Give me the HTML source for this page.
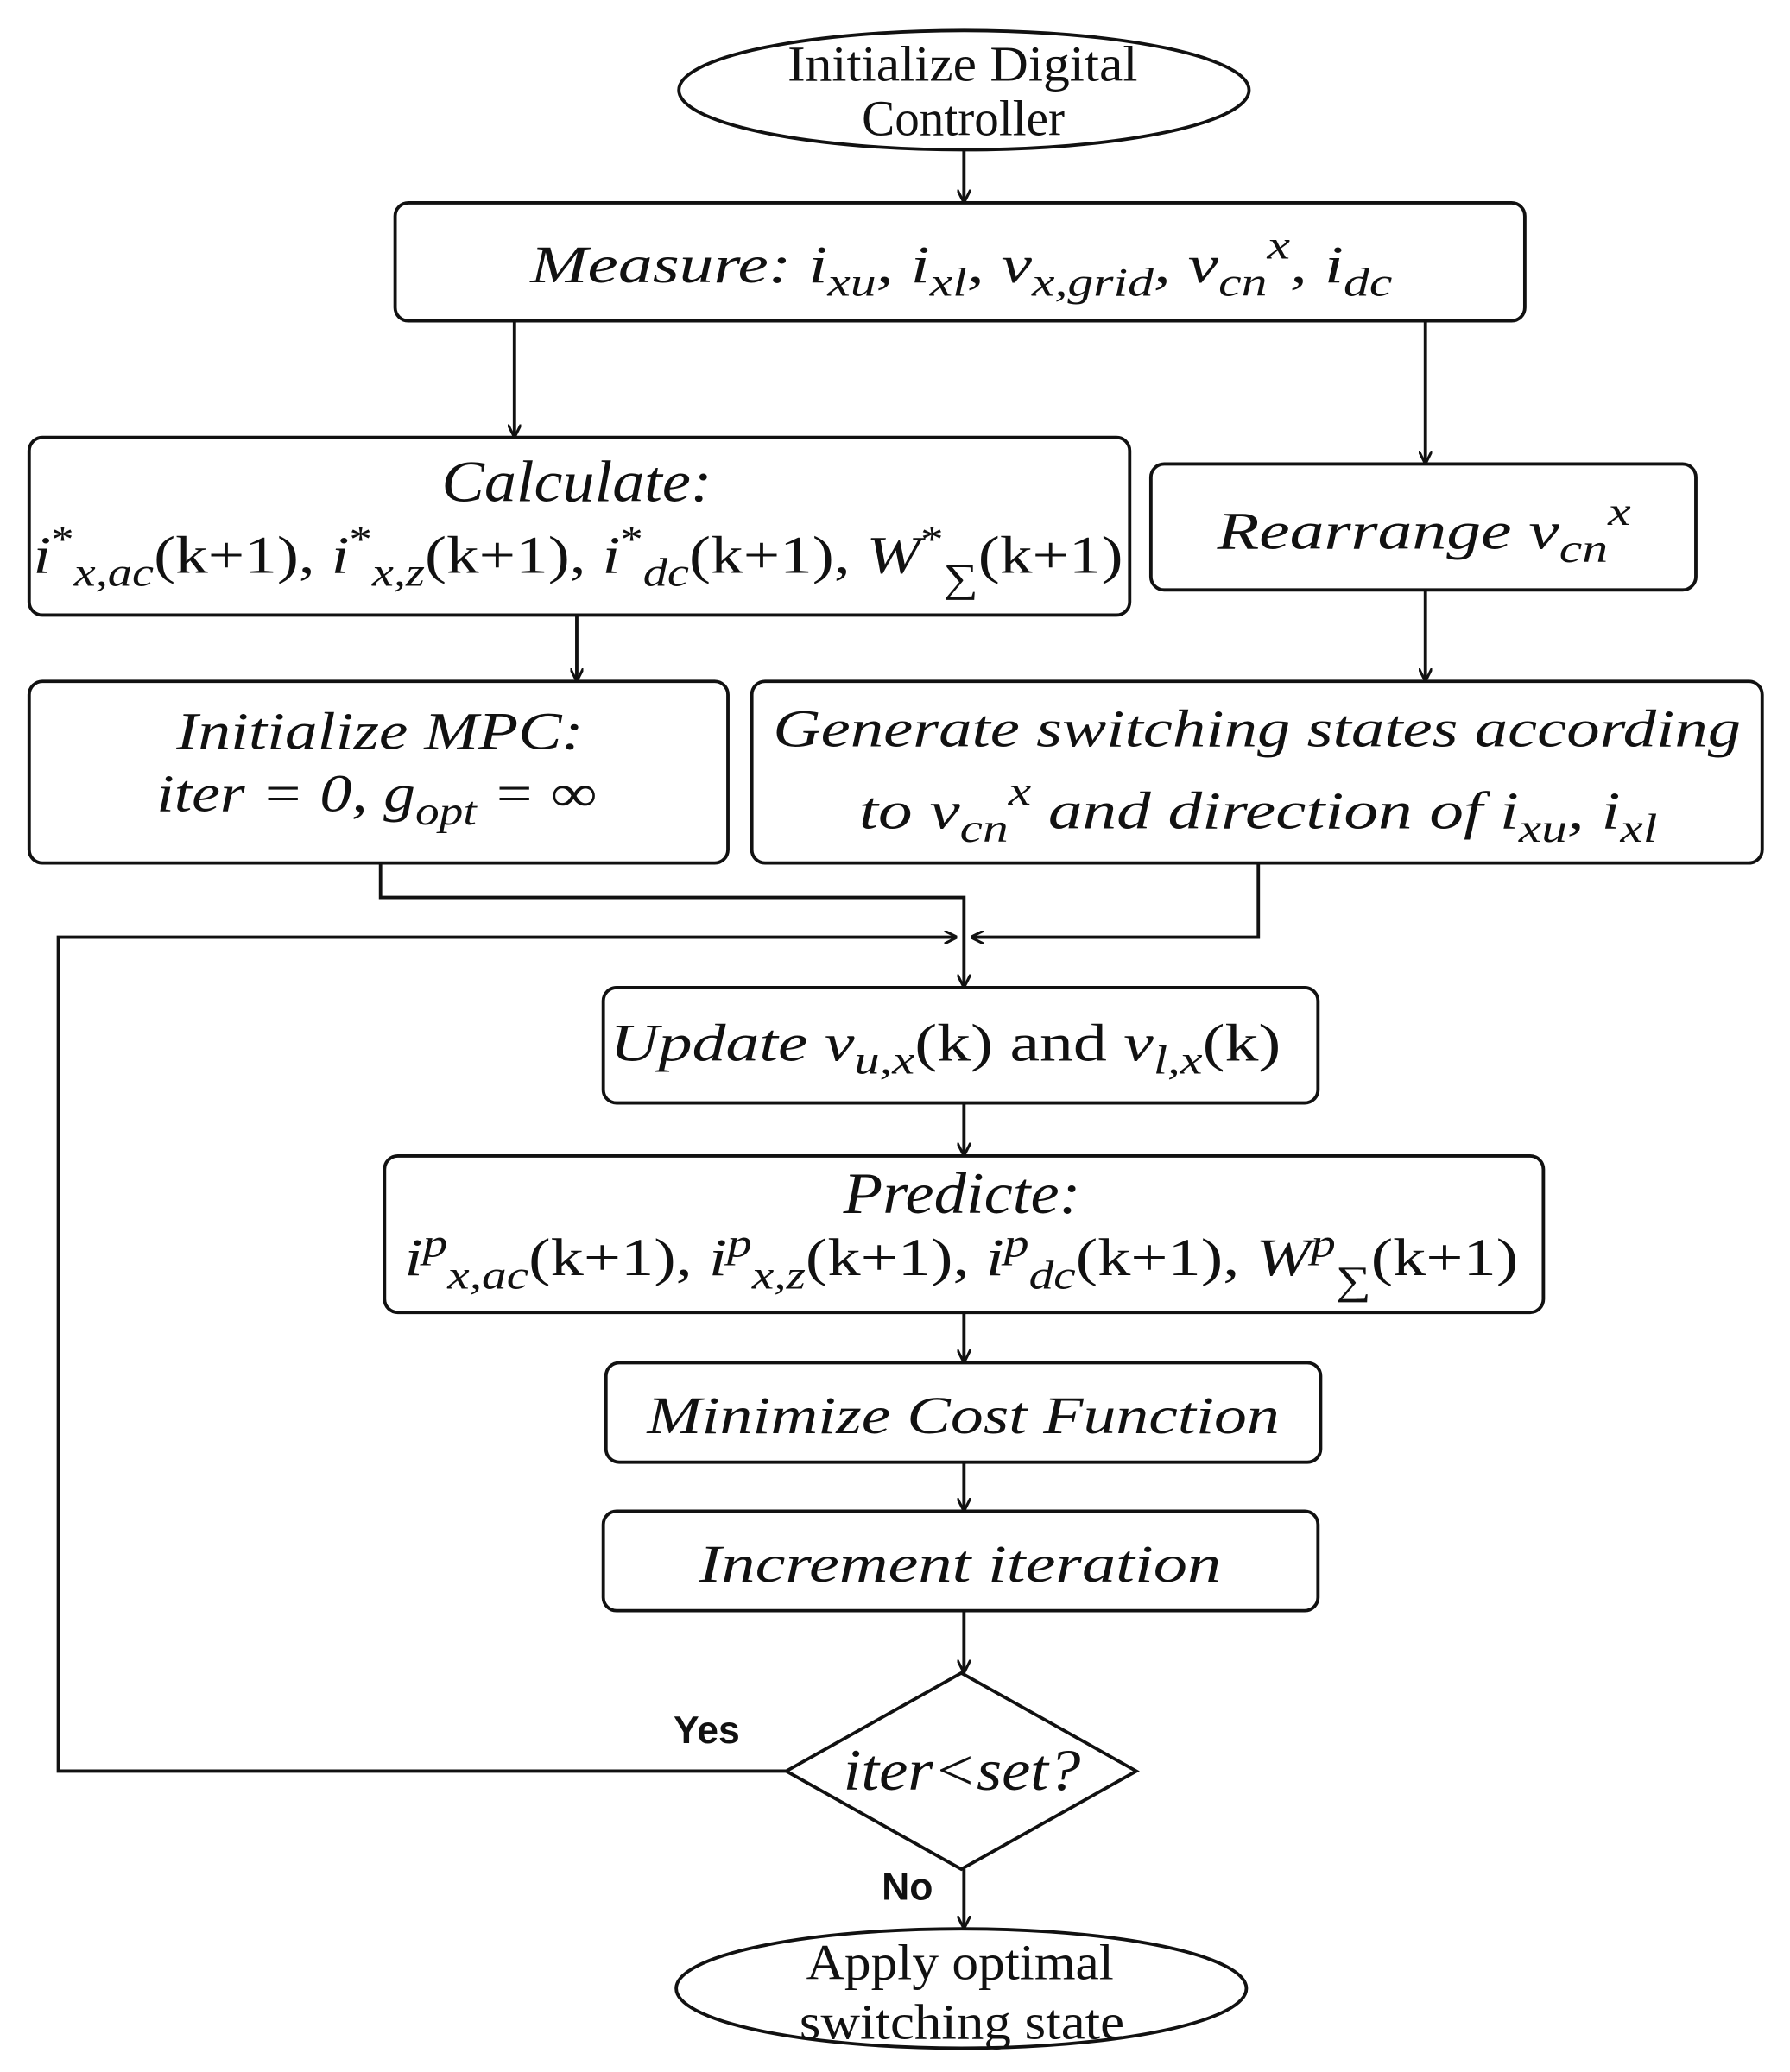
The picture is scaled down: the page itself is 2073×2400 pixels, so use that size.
<!DOCTYPE html>
<html><head><meta charset="utf-8"><style>
html,body{margin:0;padding:0;background:#fff;}
svg{display:block;}
text{font-family:"Liberation Serif",serif;fill:#111;}
.i{font-style:italic;}
</style></head><body>
<svg width="2073" height="2400" viewBox="0 0 1350 1563" preserveAspectRatio="none" xmlns="http://www.w3.org/2000/svg">
<defs><marker id="a" markerWidth="10" markerHeight="10" refX="9" refY="5" orient="auto" markerUnits="userSpaceOnUse"><path d="M0,0 L10,5 L0,10" fill="none" stroke="#111" stroke-width="2"/></marker></defs>
<g fill="none" stroke="#111" stroke-width="2.5">
<ellipse cx="727" cy="68" rx="215" ry="45"/>
<rect x="298" y="153" width="852" height="89" rx="10"/>
<rect x="22" y="330" width="830" height="134" rx="10"/>
<rect x="868" y="350" width="411" height="95" rx="10"/>
<rect x="22" y="514" width="527" height="137" rx="10"/>
<rect x="567" y="514" width="762" height="137" rx="10"/>
<rect x="455" y="745" width="539" height="87" rx="10"/>
<rect x="290" y="872" width="874" height="118" rx="10"/>
<rect x="457" y="1028" width="539" height="75" rx="10"/>
<rect x="455" y="1140" width="539" height="75" rx="10"/>
<polygon points="725,1262 857,1336 725,1410 593,1336"/>
<ellipse cx="725" cy="1500" rx="215" ry="45"/>
</g>
<g fill="none" stroke="#111" stroke-width="2.5" marker-end="url(#a)">
<path d="M727,113 V152"/>
<path d="M388,242 V329"/>
<path d="M1075,242 V349"/>
<path d="M435,464 V513"/>
<path d="M1075,445 V513"/>
<path d="M287,651 V677 H727 V744"/>
<path d="M593,1336 H44 V707 H721"/>
<path d="M949,651 V707 H733"/>
<path d="M727,832 V871"/>
<path d="M727,990 V1027"/>
<path d="M727,1103 V1139"/>
<path d="M727,1215 V1261"/>
<path d="M727,1410 V1454"/>
</g>
<g font-size="38">
<text x="594" y="61" textLength="264" lengthAdjust="spacingAndGlyphs">Initialize Digital</text>
<text x="650" y="102" textLength="153" lengthAdjust="spacingAndGlyphs">Controller</text>
<text x="608" y="1493" textLength="232" lengthAdjust="spacingAndGlyphs">Apply optimal</text>
<text x="603" y="1538" textLength="245" lengthAdjust="spacingAndGlyphs">switching state</text>
</g>
<g font-size="40">
<text class="i" x="400" y="213" textLength="650" lengthAdjust="spacingAndGlyphs">Measure: i<tspan font-size="30" dy="10">xu</tspan><tspan dy="-10">, i</tspan><tspan font-size="30" dy="10">xl</tspan><tspan dy="-10">, v</tspan><tspan font-size="30" dy="10">x,grid</tspan><tspan dy="-10">, v</tspan><tspan font-size="30" dy="10">cn</tspan><tspan font-size="30" dy="-28">x</tspan><tspan dy="18">, i</tspan><tspan font-size="30" dy="10">dc</tspan></text>
<text class="i" x="333" y="378" font-size="44" textLength="204" lengthAdjust="spacingAndGlyphs">Calculate:</text>
<text x="25" y="432" textLength="822" lengthAdjust="spacingAndGlyphs"><tspan class="i">i</tspan><tspan font-size="28" dy="-16">*</tspan><tspan class="i" font-size="30" dy="26">x,ac</tspan><tspan dy="-10">(k+1), </tspan><tspan class="i">i</tspan><tspan font-size="28" dy="-16">*</tspan><tspan class="i" font-size="30" dy="26">x,z</tspan><tspan dy="-10">(k+1), </tspan><tspan class="i">i</tspan><tspan font-size="28" dy="-16">*</tspan><tspan class="i" font-size="30" dy="26">dc</tspan><tspan dy="-10">(k+1), </tspan><tspan class="i">W</tspan><tspan font-size="28" dy="-16">*</tspan><tspan font-size="30" dy="30">∑</tspan><tspan dy="-14">(k+1)</tspan></text>
<text class="i" x="918" y="414" textLength="312" lengthAdjust="spacingAndGlyphs">Rearrange v<tspan font-size="30" dy="10">cn</tspan><tspan font-size="30" dy="-28">x</tspan></text>
<text class="i" x="133" y="565" textLength="307" lengthAdjust="spacingAndGlyphs">Initialize MPC:</text>
<text class="i" x="118" y="612" textLength="332" lengthAdjust="spacingAndGlyphs">iter = 0, g<tspan font-size="30" dy="10">opt</tspan><tspan dy="-10"> = ∞</tspan></text>
<text class="i" x="583" y="563" textLength="730" lengthAdjust="spacingAndGlyphs">Generate switching states according</text>
<text class="i" x="648" y="625" textLength="602" lengthAdjust="spacingAndGlyphs">to v<tspan font-size="30" dy="10">cn</tspan><tspan font-size="30" dy="-28">x</tspan><tspan dy="18"> and direction of  i</tspan><tspan font-size="30" dy="10">xu</tspan><tspan dy="-10">, i</tspan><tspan font-size="30" dy="10">xl</tspan></text>
<text x="460" y="800" textLength="506" lengthAdjust="spacingAndGlyphs"><tspan class="i">Update v</tspan><tspan class="i" font-size="30" dy="10">u,x</tspan><tspan dy="-10">(k) and </tspan><tspan class="i">v</tspan><tspan class="i" font-size="30" dy="10">l,x</tspan><tspan dy="-10">(k)</tspan></text>
<text class="i" x="636" y="915" font-size="44" textLength="179" lengthAdjust="spacingAndGlyphs">Predicte:</text>
<text x="305" y="962" textLength="840" lengthAdjust="spacingAndGlyphs"><tspan class="i">i</tspan><tspan class="i" font-size="30" dy="-14">p</tspan><tspan class="i" font-size="30" dy="24">x,ac</tspan><tspan dy="-10">(k+1), </tspan><tspan class="i">i</tspan><tspan class="i" font-size="30" dy="-14">p</tspan><tspan class="i" font-size="30" dy="24">x,z</tspan><tspan dy="-10">(k+1), </tspan><tspan class="i">i</tspan><tspan class="i" font-size="30" dy="-14">p</tspan><tspan class="i" font-size="30" dy="24">dc</tspan><tspan dy="-10">(k+1), </tspan><tspan class="i">W</tspan><tspan class="i" font-size="30" dy="-14">p</tspan><tspan font-size="30" dy="28">∑</tspan><tspan dy="-14">(k+1)</tspan></text>
<text class="i" x="488" y="1081" textLength="477" lengthAdjust="spacingAndGlyphs">Minimize Cost Function</text>
<text class="i" x="527" y="1193" textLength="394" lengthAdjust="spacingAndGlyphs">Increment iteration</text>
<text class="i" x="636" y="1350" font-size="44" textLength="179" lengthAdjust="spacingAndGlyphs">iter&lt;set?</text>
</g>
<g font-size="29">
<text x="508" y="1315" style="font-family:'Liberation Sans',sans-serif;font-weight:bold">Yes</text>
<text x="665" y="1433" style="font-family:'Liberation Sans',sans-serif;font-weight:bold">No</text>
</g>
</svg>
</body></html>
